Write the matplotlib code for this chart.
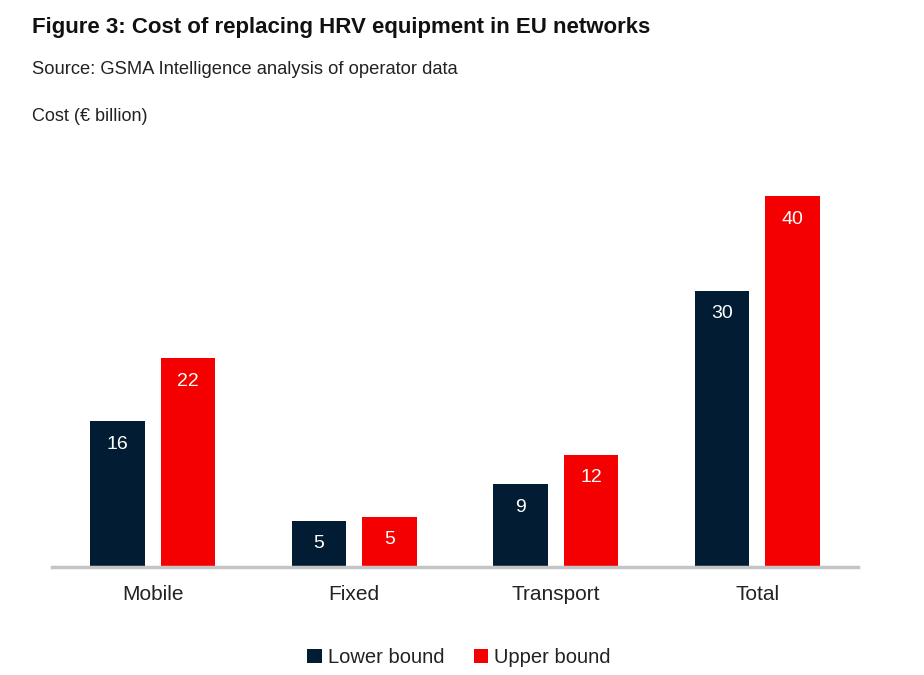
import matplotlib.pyplot as plt
import numpy as np

plt.rcParams['font.family'] = ['Liberation Sans', 'DejaVu Sans']

categorias = ["Mobile", "Fixed", "Transport", "Total"]
lower = [15.7, 5.0, 8.9, 29.8]
upper = [22.5, 5.4, 12.1, 40.0]
lower_labels = ["16", "5", "9", "30"]
upper_labels = ["22", "5", "12", "40"]

navy = "#021d33"
red = "#f50000"

fig = plt.figure(figsize=(9.24, 6.75), dpi=100)
ax = fig.add_axes([0.0563, 0.16, 0.8723, 0.577])

x = np.arange(len(categorias))
w = 0.27
b1 = ax.bar(x - 0.175, lower, w, color=navy, label="Lower bound")
b2 = ax.bar(x + 0.175, upper, w, color=red, label="Upper bound")

# rotulos dentro das barras
for barras, textos in [(b1, lower_labels), (b2, upper_labels)]:
    for barra, t in zip(barras, textos):
        ax.annotate(t, (barra.get_x() + barra.get_width() / 2, barra.get_height()),
                    xytext=(0, -23), textcoords="offset pixels",
                    ha="center", va="center", color="white", fontsize=14)

ax.set_xlim(-0.5, 3.5)
ax.set_ylim(0, 42.0)
ax.set_xticks(x)
ax.set_xticklabels(categorias, fontsize=15)
ax.tick_params(axis="x", length=0, pad=13, colors="#222222")
ax.set_yticks([])
for lado in ["top", "right", "left"]:
    ax.spines[lado].set_visible(False)
ax.spines["bottom"].set_color("#c4c4c4")
ax.spines["bottom"].set_linewidth(2.5)

fig.text(0.035, 0.959, "Figure 3: Cost of replacing HRV equipment in EU networks",
         fontsize=16, fontweight="bold", va="center", color="#111111")
fig.text(0.035, 0.897, "Source: GSMA Intelligence analysis of operator data",
         fontsize=13.2, va="center", color="#222222")
fig.text(0.035, 0.827, "Cost (€ billion)", fontsize=13, va="center", color="#222222")

fig.legend(loc="center", bbox_to_anchor=(0.497, 0.026), ncol=2, frameon=False,
           fontsize=14.5, handlelength=0.7, handleheight=0.7, handletextpad=0.3,
           columnspacing=1.5, labelcolor="#222222")

fig.savefig("out.png", dpi=100)
